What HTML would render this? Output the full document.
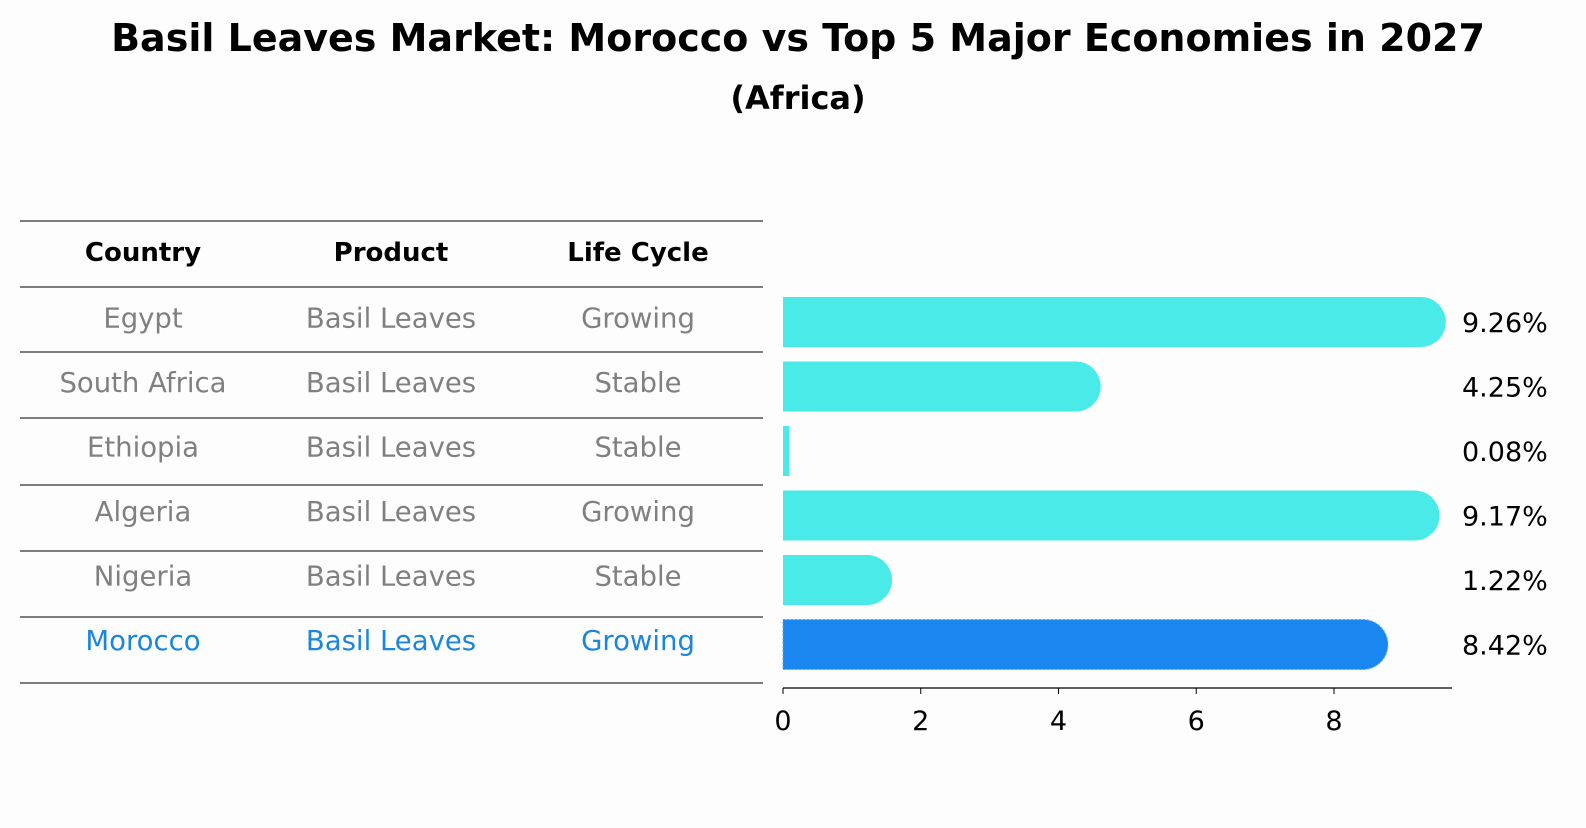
<!DOCTYPE html>
<html><head><meta charset="utf-8"><style>
body{margin:0;background:#fdfdfd;width:1586px;height:823px;overflow:hidden;font-family:"Liberation Sans","DejaVu Sans",sans-serif}
</style></head><body>
<svg width="1586" height="823" font-family="DejaVu Sans, Liberation Sans, sans-serif">
<text x="798" y="51" text-anchor="middle" font-size="38" font-weight="bold">Basil Leaves Market: Morocco vs Top 5 Major Economies in 2027</text>
<text x="798" y="109" text-anchor="middle" font-size="32" font-weight="bold">(Africa)</text>
<g id="table"></g>
<g id="bars"></g>
</svg>
<script>
const countries=["Egypt","South Africa","Ethiopia","Algeria","Nigeria","Morocco"];
const lifeCycle=["Growing","Stable","Stable","Growing","Stable","Growing"];
const values=[9.26,4.25,0.08,9.17,1.22,8.42];
const ticks=[0,2,4,6,8];
const NS="http://www.w3.org/2000/svg";
function mk(tag,attrs,parent,text){const e=document.createElementNS(NS,tag);for(const k in attrs)e.setAttribute(k,attrs[k]);if(text!==undefined)e.textContent=text;parent.appendChild(e);return e;}
const tbl=document.getElementById('table'),bars=document.getElementById('bars');
const x=v=>783+v*68.875;
const rowY=i=>322+i*64.5;
const lineYs=[221,287,352,418,485,551,617,683];
lineYs.forEach(y=>{const l=mk('line',{x1:20,x2:763,y1:y,y2:y,stroke:'#000','stroke-width':1},tbl);

});
const colX=[143,391,638];
["Country","Product","Life Cycle"].forEach((h,j)=>{const t=mk('text',{x:colX[j],y:261,'text-anchor':'middle','font-size':26,'font-weight':'bold'},tbl,h);

});
countries.forEach((c,i)=>{const col=c==="Morocco"?'#1a86e0':'#808080';
[c,"Basil Leaves",lifeCycle[i]].forEach((s,j)=>{const t=mk('text',{x:colX[j],y:rowY(i)+5.5,'text-anchor':'middle','font-size':27.5,fill:col},tbl,s);

});
const v=values[i],xe=x(v),yc=rowY(i),r=25;
const fill=c==="Morocco"?'#1a87f0':'#4aeae8';
let d;
if(xe-783>r){d=`M783,${yc-r}H${xe}A${r},${r} 0 0 1 ${xe},${yc+r}H783Z`;}
else{d=`M783,${yc-r}H${xe+1}V${yc+r}H783Z`;}
const p=mk('path',{d:d,fill:fill},bars);
if(c==="Morocco"){p.setAttribute('stroke','#5aa8f0');p.setAttribute('stroke-dasharray','2,2');}


const lb=mk('text',{x:1462,y:yc+10,'font-size':27},bars,v.toFixed(2)+'%');


});
const ax=mk('line',{x1:783,x2:1452,y1:688,y2:688,stroke:'#000','stroke-width':1.3},bars);


ticks.forEach(t=>{const tl=mk('line',{x1:x(t),x2:x(t),y1:688,y2:694,stroke:'#000'},bars);


const tt=mk('text',{x:x(t),y:730,'text-anchor':'middle','font-size':27},bars,t);

});
</script>
</body></html>
